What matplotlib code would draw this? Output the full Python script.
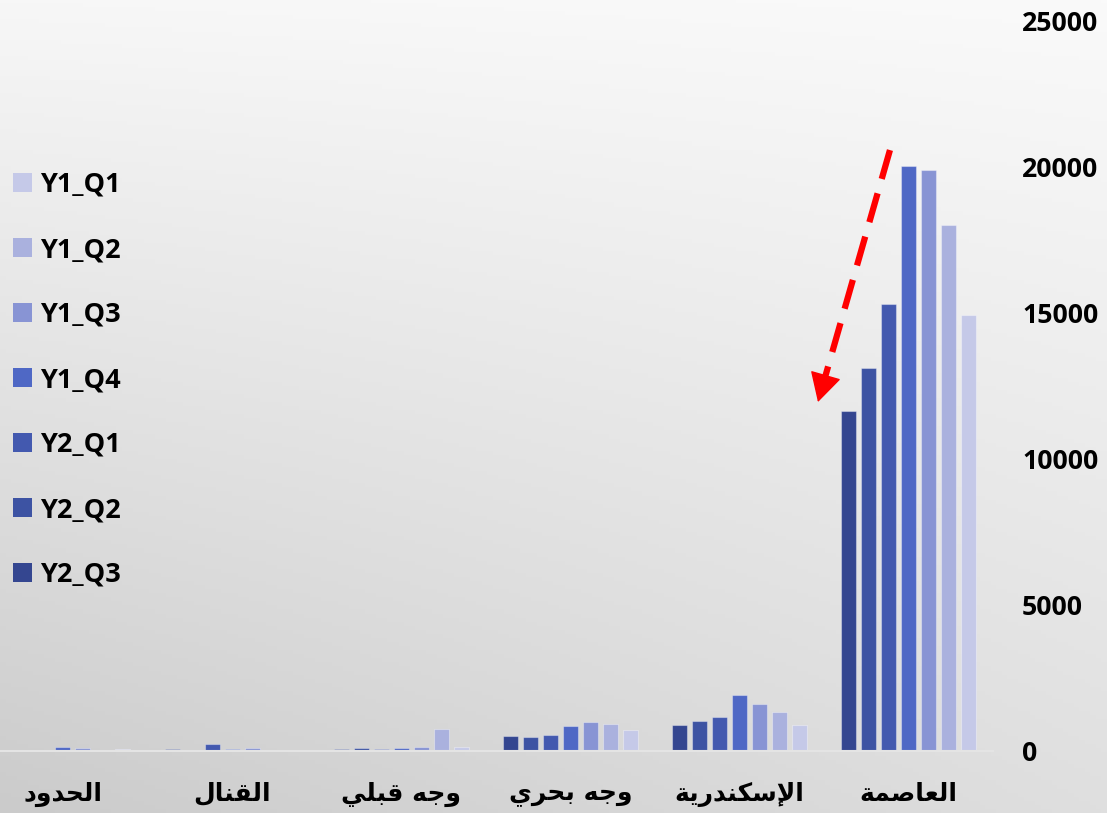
import numpy as np
import matplotlib
matplotlib.use("Agg")
import matplotlib.pyplot as plt

# ---------------- data ----------------
categories = ['العاصمة', 'الإسكندرية', 'وجه بحري', 'وجه قبلي', 'القنال', 'الحدود']
series = ['Y1_Q1', 'Y1_Q2', 'Y1_Q3', 'Y1_Q4', 'Y2_Q1', 'Y2_Q2', 'Y2_Q3']
y1_q1 = [14920, 890, 733, 137, 50, 55]
y1_q2 = [18000, 1346, 938, 755, 45, 45]
y1_q3 = [19890, 1620, 983, 150, 100, 115]
y1_q4 = [20050, 1930, 870, 90, 70, 125]
y2_q1 = [15310, 1165, 548, 55, 240, 45]
y2_q2 = [13130, 1017, 490, 115, 20, 10]
y2_q3 = [11650, 890, 500, 80, 75, 30]
values = [y1_q1, y1_q2, y1_q3, y1_q4, y2_q1, y2_q2, y2_q3]
colors = ['#C5C9E8', '#AAB1DE', '#8894D4', '#4F68C5', '#4359AF', '#3D53A3', '#344690']
yticks = [0, 5000, 10000, 15000, 20000, 25000]

# ---------- minimal Arabic shaping (presentation forms + RTL order) ----------
FORMS = {
    '\u0627': (0xFE8D, 2), '\u0625': (0xFE87, 2), '\u0628': (0xFE8F, 4), '\u0629': (0xFE93, 2),
    '\u062C': (0xFE9D, 4), '\u062D': (0xFEA1, 4), '\u062F': (0xFEA9, 2), '\u0631': (0xFEAD, 2),
    '\u0633': (0xFEB1, 4), '\u0635': (0xFEB9, 4), '\u0639': (0xFEC9, 4), '\u0642': (0xFED5, 4),
    '\u0643': (0xFED9, 4), '\u0644': (0xFEDD, 4), '\u0645': (0xFEE1, 4), '\u0646': (0xFEE5, 4),
    '\u0647': (0xFEE9, 4), '\u0648': (0xFEED, 2), '\u064A': (0xFEF1, 4),
}
LAM_ALEF = {'\u0627': 0xFEFB, '\u0625': 0xFEF9, '\u0623': 0xFEF7, '\u0622': 0xFEF5}


def shape_ar(text):
    toks = []
    i = 0
    while i < len(text):
        c = text[i]
        if c == '\u0644' and i + 1 < len(text) and text[i + 1] in LAM_ALEF:
            toks.append(('LA', LAM_ALEF[text[i + 1]]))
            i += 2
        else:
            toks.append(('C', c))
            i += 1

    def joins_next(t):
        return t[0] == 'C' and t[1] in FORMS and FORMS[t[1]][1] == 4

    def joins_prev(t):
        return t[0] == 'LA' or t[1] in FORMS

    out = []
    for k, t in enumerate(toks):
        pj = k > 0 and joins_next(toks[k - 1]) and joins_prev(t)
        nj = k + 1 < len(toks) and joins_next(t) and joins_prev(toks[k + 1])
        if t[0] == 'LA':
            out.append(chr(t[1] + (1 if pj else 0)))
            continue
        c = t[1]
        if c not in FORMS:
            out.append(c)
            continue
        base, n = FORMS[c]
        if pj and nj:
            cp = base + 3
        elif pj:
            cp = base + 1
        elif nj:
            cp = base + 2
        else:
            cp = base
        out.append(chr(cp))
    return ''.join(reversed(out))


# ---------------- figure ----------------
W, H = 1107, 813
fig = plt.figure(figsize=(W / 100, H / 100), dpi=100)

# background gradient
bg = fig.add_axes([0, 0, 1, 1], zorder=0)
yy, xx = np.mgrid[0:1:200j, 0:1:200j]      # yy: 0 top -> 1 bottom
v = 1 - yy
g = (203 + 44 * v + 20 * xx * (1 - v) + 3 * xx * v) / 255.0
g = np.clip(g, 0, 1)
bg.imshow(np.dstack([g, g, g]), aspect='auto', extent=[0, 1, 0, 1], origin='upper')
bg.axis('off')

ax_left = 0.0
ax_right = 993 / W
ax_bottom = (H - 751) / H
ax_top = (H - 21) / H
ax = fig.add_axes([ax_left, ax_bottom, ax_right - ax_left, ax_top - ax_bottom], zorder=1)
ax.patch.set_alpha(0)

x = np.arange(len(categories))
stride = 20 / 169.1
width = 15 / 169.1
bars = []
for s, (name, vals, col) in enumerate(zip(series, values, colors)):
    b = ax.bar(x + (s - 3) * stride, vals, width=width, color=col, label=name,
               edgecolor=(1, 1, 1, 0.35), linewidth=0.8, zorder=2)
    bars.append(b)

ax.set_xlim(5 + 63 / 169.1, -0.5)
ax.set_ylim(0, 25000)

for sp in ['left', 'right', 'top']:
    ax.spines[sp].set_visible(False)
ax.spines['bottom'].set_color('#E4E4E4')
ax.spines['bottom'].set_linewidth(1.5)

ax.yaxis.tick_right()
ax.set_yticks(yticks)
ax.set_yticklabels([str(t) for t in yticks], fontfamily='Open Sans', fontweight='bold',
                   fontsize=19.2, color='black')
ax.tick_params(axis='y', length=0, pad=21)

ax.set_xticks(x)
ax.set_xticklabels([shape_ar(c) for c in categories], fontfamily='DejaVu Sans',
                   fontweight='bold', fontsize=18, color='black')
ax.tick_params(axis='x', length=0, pad=22)

# legend
leg = fig.legend(handles=bars, labels=series, loc='upper left',
                 bbox_to_anchor=(13 / W, 1 - 172 / H), frameon=False,
                 prop={'family': 'Open Sans', 'weight': 'bold', 'size': 19.5},
                 handlelength=0.7, handleheight=0.7, handletextpad=0.3,
                 labelspacing=1.44, borderpad=0, borderaxespad=0)
for h in leg.legend_handles:
    h.set_edgecolor('none')

# red dashed arrow
tail = (18.5 / 169.1, 20580)
tip = (90.5 / 169.1, 11950)
dx = tip[0] - tail[0]
dy = tip[1] - tail[1]
ax.plot([tail[0], tail[0] + 0.9 * dx], [tail[1], tail[1] + 0.9 * dy], color='red',
        lw=4.5, dashes=(4.8, 2.4), zorder=3, solid_capstyle='butt', dash_capstyle='butt',
        clip_on=False)
ax.annotate('', xy=tip, xytext=(tail[0] + 0.93 * dx, tail[1] + 0.93 * dy),
            arrowprops=dict(arrowstyle='-|>,head_length=1.1,head_width=0.6', color='red',
                            lw=1, shrinkA=0, shrinkB=0, mutation_scale=17),
            zorder=3)

fig.savefig('out.png', dpi=100)
